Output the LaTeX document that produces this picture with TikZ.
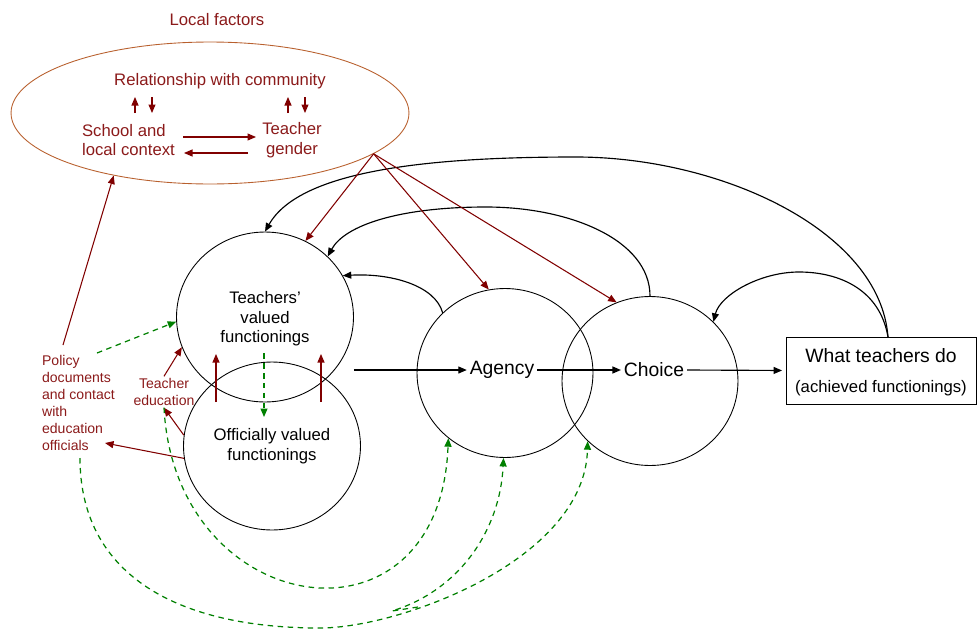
\documentclass[tikz,border=0pt]{standalone}
\usepackage{fontspec}
\setmainfont{Liberation Sans}
\usetikzlibrary{arrows.meta,shapes.geometric}
\definecolor{dred}{HTML}{8B1A1A}
\definecolor{lred}{HTML}{800000}
\definecolor{ellc}{HTML}{B8602E}
\definecolor{dgreen}{HTML}{008000}
\begin{document}
\begin{tikzpicture}[x=0.02cm,y=-0.02cm,
 circ/.style={draw,ellipse,inner sep=0pt,line width=0.5pt},
 arr/.style={-{Triangle[length=1.7mm,width=1.4mm]}},
 blk/.style={arr,line width=0.65pt,black},
 redl/.style={arr,line width=0.6pt,lred},
 grn/.style={arr,line width=0.7pt,dgreen,dash pattern=on 1.1mm off 0.9mm},
 lab/.style={font=\fontsize{9.5}{11.2}\selectfont,inner sep=1pt},
 rlab/.style={lab,text=dred},
 big/.style={font=\fontsize{11}{13}\selectfont,inner sep=1.5pt},
 sml/.style={font=\fontsize{8}{9.6}\selectfont,text=dred,inner sep=1pt},
]
\useasboundingbox (0,0) rectangle (977,629);

% local factors
\node[rlab] (lft) at (217,20) {Local factors};
\node[circ,draw=ellc,minimum width=7.96cm,minimum height=2.84cm] (lf) at (210,113) {};
\node[rlab] (rel) at (220,81) {Relationship with community};
\node[rlab,align=left,anchor=west] (sc) at (80,140) {School and\\local context};
\node[rlab,align=center] (tg) at (292,140) {Teacher\\gender};
\coordinate (u1a) at (135,113); \coordinate (u1b) at (135,97);
\coordinate (d1a) at (152,97);  \coordinate (d1b) at (152,113);
\coordinate (u2a) at (288,113); \coordinate (u2b) at (288,97);
\coordinate (d2a) at (305,97);  \coordinate (d2b) at (305,113);
\coordinate (ra) at (183,137); \coordinate (rb) at (256,137);
\coordinate (la) at (248,153); \coordinate (lb) at (184,153);
\draw[redl] (u1a) -- (u1b);
\draw[redl] (d1a) -- (d1b);
\draw[redl] (u2a) -- (u2b);
\draw[redl] (d2a) -- (d2b);
\draw[redl] (ra) -- (rb);
\draw[redl] (la) -- (lb);

% circles
\node[circ,minimum width=3.54cm,minimum height=3.4cm] (tv) at (265,317) {};
\node[circ,minimum width=3.54cm,minimum height=3.36cm] (ov) at (272,446) {};
\node[circ,minimum width=3.52cm,minimum height=3.38cm] (ag) at (505,373) {};
\node[circ,minimum width=3.52cm,minimum height=3.38cm] (ch) at (650,381) {};
\node[lab,align=center] (tvt) at (265,319) {Teachers'\\valued\\functionings};
\node[lab,align=center] (ovt) at (272,446) {Officially valued\\functionings};
\node[big] (agt) at (502,370) {Agency};
\node[big] (cht) at (654,370) {Choice};
\node[draw,line width=0.5pt,minimum width=3.8cm,minimum height=1.34cm,inner sep=0pt] (box) at (881,370.5) {};
\node[big,inner sep=0pt] (wt1) at (881,356) {What teachers do};
\node[lab,inner sep=0pt] (wt2) at (881,388) {(achieved functionings)};

% side labels
\node[sml,align=left,anchor=west] (pol) at (40,403) {Policy\\documents\\and contact\\with\\education\\officials};
\node[sml,align=center] (te) at (164,392) {Teacher\\education};

% main horizontal arrows
\draw[blk] (tv.east |- agt.west) -- (agt.west);
\draw[blk] (agt.east) -- (cht.west);
\draw[blk,shorten >=2pt] (cht.east) -- (box.west);

% black feedback arcs
\coordinate (bt) at (888,337);
\draw[blk] (bt) .. controls (880,230) and (720,157) .. (576,157)
   .. controls (430,157) and (300,170) .. (tv.north);
\draw[blk] (bt) .. controls (880,290) and (840,272) .. (799,272)
   .. controls (760,272) and (720,295) .. (ch.43);
\draw[blk] (ch.north) .. controls (650,240) and (570,207) .. (486,207)
   .. controls (400,207) and (345,225) .. (tv.44);
\draw[blk] (ag.136) .. controls (435,285) and (390,273) .. (tv.28);

% red fan from local factors
\draw[redl] (lf.346) -- (tv.62);
\draw[redl] (lf.346) -- (ag.101);
\draw[redl] (lf.346) -- (ch.113);

% red vertical arrows between circles
\coordinate (v1a) at (216,402); \coordinate (v1b) at (216,354);
\coordinate (v2a) at (321,402); \coordinate (v2b) at (321,354);
\draw[redl] (v1a) -- (v1b);
\draw[redl] (v2a) -- (v2b);
\coordinate (g0a) at (264,353); \coordinate (g0b) at (264,417);
\draw[grn] (g0a) -- (g0b);

% policy / teacher education links
\coordinate (p1) at (63,345);
\coordinate (p2) at (97,353);
\coordinate (p3) at (105,443);
\coordinate (p4) at (80,458);
\draw[redl] (p1) -- (lf.213);
\draw[grn] (p2) -- (tv.183);
\draw[redl] (ov.188) -- (p3);
\draw[redl] (te.north) -- (tv.200);
\draw[redl] (ov.173) -- (te.south);

% green dashed arcs
\draw[grn] (te.south) .. controls (175,620) and (440,660) .. (ag.229);
\draw[grn] (p4) .. controls (80,570) and (170,628) .. (320,628)
   .. controls (400,628) and (585,560) .. (ch.224);
\coordinate (c0) at (418,607);
\draw[grn] (c0) -- (392,611) .. controls (460,590) and (500,530) .. (ag.269);
\end{tikzpicture}
\end{document}
